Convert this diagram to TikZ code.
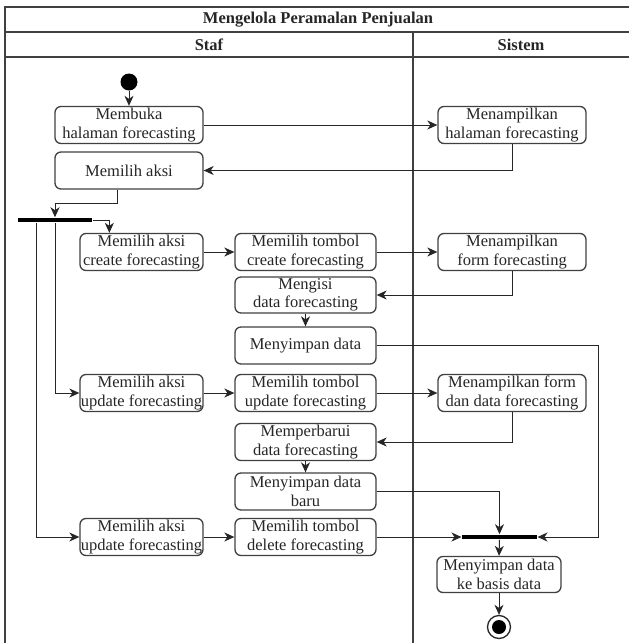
\documentclass[tikz,border=0pt]{standalone}
\usepackage{fontspec}
\setmainfont{Liberation Serif}
\usetikzlibrary{arrows.meta,calc}

\begin{document}
\begin{tikzpicture}[x=1pt,y=-1pt,
  line width=1pt,
  every node/.style={font=\fontsize{16.5}{18.5}\selectfont, text=black!85},
  act/.style={draw=black!75, line width=1.3pt, rounded corners=6pt,
    minimum height=37pt, inner sep=0pt, align=center},
  wide/.style={act, minimum width=148pt},
  mid/.style={act, minimum width=141pt},
  narrow/.style={act, minimum width=123pt},
  bar/.style={fill=black, draw=none, inner sep=0pt, minimum height=4.5pt},
  lane/.style={draw=black!75, line width=1.3pt},
  flow/.style={draw=black!85, line width=1pt, -{Stealth[length=10pt,width=9pt,inset=3pt]}},
  head/.style={font=\fontsize{16.5}{18.5}\selectfont\bfseries}
]
\useasboundingbox (0,0) rectangle (629,643);

% swimlane frame
\draw[lane] (5,7) rectangle (632,647);
\draw[lane] (5,32) -- (632,32);
\draw[lane] (5,57) -- (632,57);
\draw[lane] (413,32) -- (413,647);
\node[head] (title) at (318,19.5) {Mengelola Peramalan Penjualan};
\node[head] (laneA) at (209,44.5) {Staf};
\node[head] (laneB) at (521,44.5) {Sistem};

% initial and final states
\node[circle, fill=black, inner sep=0pt, minimum size=17pt] (start) at (129,82) {};
\node[circle, draw=black!85, line width=1.3pt, inner sep=0pt, minimum size=23pt] (stop) at (499,627) {};
\node[circle, fill=black, inner sep=0pt, minimum size=14pt] (stopdot) at (499,627) {};

% Staf lane
\node[wide] (buka) at (129,125) {Membuka\\halaman forecasting};
\node[wide] (aksi) at (129,170.5) {Memilih aksi};
\node[bar, minimum width=74pt] (fork) at (55,220) {};

\node[narrow] (cA) at (141.5,252) {Memilih aksi\\create forecasting};
\node[mid] (cB) at (305.5,252) {Memilih tombol\\create forecasting};
\node[mid, minimum height=36pt] (cC) at (305.5,295) {Mengisi\\data forecasting};
\node[mid] (cD) at (305.5,345.5) {Menyimpan data};

\node[narrow] (uA) at (141.5,393) {Memilih aksi\\update forecasting};
\node[mid] (uB) at (305.5,393) {Memilih tombol\\update forecasting};
\node[mid] (uC) at (305.5,442) {Memperbarui\\data forecasting};
\node[mid] (uD) at (305.5,491.5) {Menyimpan data\\baru};

\node[narrow] (dA) at (141.5,537) {Memilih aksi\\update forecasting};
\node[mid] (dB) at (305.5,537) {Memilih tombol\\delete forecasting};

% Sistem lane
\node[wide] (tampil) at (512,125) {Menampilkan\\halaman forecasting};
\node[wide] (formC) at (512,252) {Menampilkan\\form forecasting};
\node[wide] (formU) at (512,393) {Menampilkan form\\dan data forecasting};
\node[bar, minimum width=75pt] (join) at (499.5,537) {};
\node[act, minimum width=124pt, minimum height=36pt] (simpan) at (499,574.5) {Menyimpan data\\ke basis data};

% flows
\draw[flow] (start) -- (buka);
\draw[flow] (buka) -- (tampil);
\draw[flow] (tampil.south) |- (aksi.east);
\draw[flow] ($(aksi.south)+(-12,0)$) -- ++(0,14) -| (fork.north);
\draw[flow] (fork.east) -| ($(cA.north west)+(30,0)$);
\draw[flow] (fork.south) |- (uA.west);
\draw[flow] ($(fork.south)+(-19,0)$) |- (dA.west);

\draw[flow] (cA) -- (cB);
\draw[flow] (cB) -- (formC);
\draw[flow] (formC.south) |- (cC.east);
\draw[flow] (cC) -- (cD);
\draw[flow] (cD.east) -- ++(222,0) |- (join.east);

\draw[flow] (uA) -- (uB);
\draw[flow] (uB) -- (formU);
\draw[flow] (formU.south) |- (uC.east);
\draw[flow] (uC) -- (uD);
\draw[flow] (uD.east) -| (join.north);

\draw[flow] (dA) -- (dB);
\draw[flow] (dB) -- (join.west);

\draw[flow] (join.south) -- (simpan.north);
\draw[flow] (simpan.south) -- (stop.north);
\end{tikzpicture}
\end{document}
